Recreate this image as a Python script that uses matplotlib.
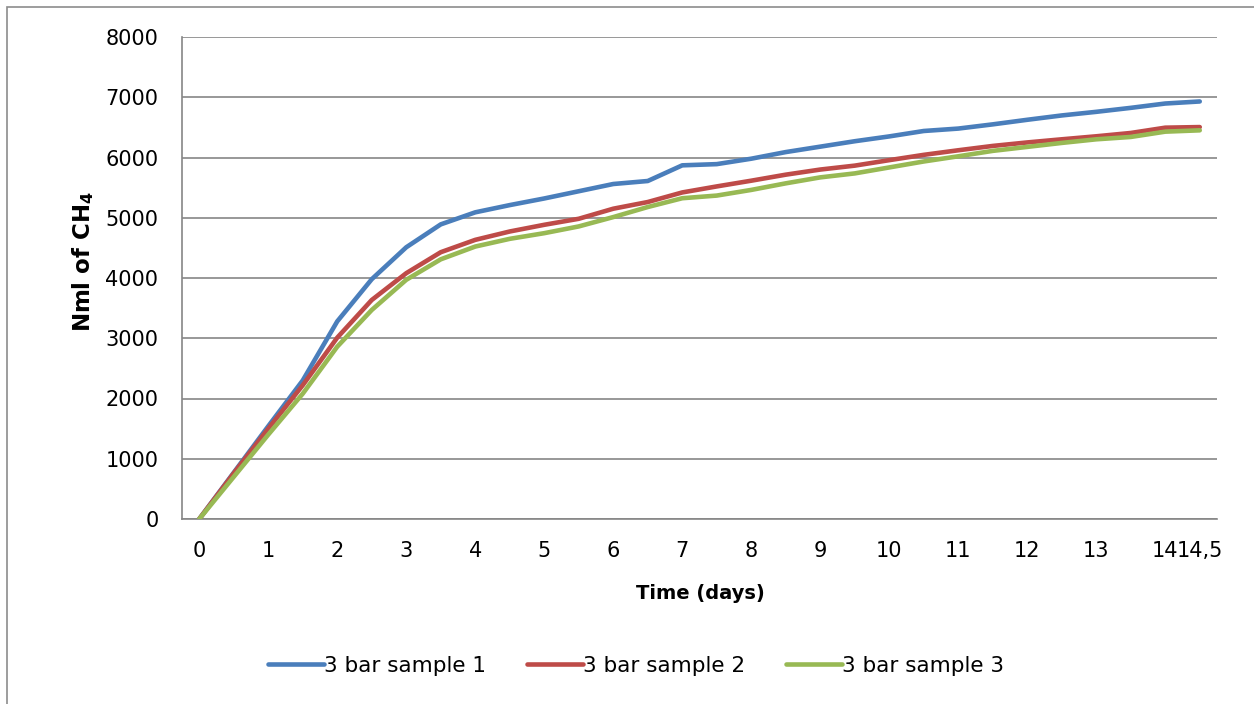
import matplotlib
matplotlib.use("Agg")
import matplotlib.pyplot as plt
from matplotlib.patches import Rectangle

# Sampling times (days) and cumulative methane volumes (Nml)
days = [0, 0.5, 1, 1.5, 2, 2.5, 3, 3.5, 4, 4.5, 5, 5.5, 6, 6.5, 7, 7.5,
        8, 8.5, 9, 9.5, 10, 10.5, 11, 11.5, 12, 12.5, 13, 13.5, 14, 14.5]

sample1 = [0, 770, 1540, 2300, 3280, 3980, 4510, 4890, 5090, 5210, 5320, 5440,
           5560, 5610, 5870, 5890, 5980, 6090, 6180, 6270, 6350, 6440, 6480,
           6550, 6626, 6698, 6758, 6824, 6896, 6930]
sample2 = [0, 760, 1500, 2220, 3010, 3635, 4080, 4428, 4633, 4772, 4883, 4983,
           5150, 5261, 5420, 5520, 5615, 5715, 5800, 5865, 5956, 6044, 6120,
           6192, 6250, 6302, 6352, 6407, 6495, 6505]
sample3 = [0, 700, 1400, 2080, 2860, 3469, 3970, 4310, 4522, 4650, 4744, 4856,
           5011, 5178, 5324, 5368, 5462, 5571, 5670, 5736, 5835, 5934, 6020,
           6110, 6176, 6242, 6302, 6341, 6429, 6451]

series_labels = ["3 bar sample 1", "3 bar sample 2", "3 bar sample 3"]
series_colors = ["#4A7EBB", "#BE4B48", "#98B954"]

xtick_values = [0, 1, 2, 3, 4, 5, 6, 7, 8, 9, 10, 11, 12, 13, 14, 14.5]
xtick_labels = ["0", "1", "2", "3", "4", "5", "6", "7", "8", "9", "10", "11",
                "12", "13", "14", "14,5"]
ytick_values = [0, 1000, 2000, 3000, 4000, 5000, 6000, 7000, 8000]

plt.rcParams["font.family"] = ["DejaVu Sans"]
plt.rcParams["mathtext.fontset"] = "dejavusans"

W, H = 1254, 704
fig = plt.figure(figsize=(W / 100, H / 100), dpi=100)
fig.patch.set_facecolor("white")

# chart-area frame (only its left and top edges fall inside the canvas)
fig.patches.append(Rectangle((7 / W, -0.2), 1.2, 1.2 - 7 / H,
                             transform=fig.transFigure, fill=False,
                             edgecolor="#8C8C8C", linewidth=1.2))

ax = fig.add_axes([182 / W, 1 - 519 / H, (1217 - 182) / W, (519 - 37) / H])

grid_color = "#868686"
for s, lab, col in zip([sample1, sample2, sample3], series_labels, series_colors):
    ax.plot(days, s, color=col, linewidth=3.3, label=lab,
            solid_capstyle="round", solid_joinstyle="round", zorder=3)

ax.set_xlim(-0.25, 14.75)
ax.set_ylim(0, 8000)
ax.set_xticks(xtick_values)
ax.set_xticklabels(xtick_labels)
ax.set_yticks(ytick_values)
ax.set_yticklabels([str(v) for v in ytick_values])
ax.tick_params(axis="both", length=0, labelsize=15, colors="black")
ax.tick_params(axis="x", pad=16)
ax.tick_params(axis="y", pad=17)

ax.yaxis.grid(True, color=grid_color, linewidth=1.2)
ax.set_axisbelow(True)
for side in ("top", "right"):
    ax.spines[side].set_visible(False)
for side in ("left", "bottom"):
    ax.spines[side].set_color(grid_color)
    ax.spines[side].set_linewidth(1.2)

ax.set_xlabel("Time (days)", fontsize=14, fontweight="bold")
ax.xaxis.set_label_coords((700 - 182) / (1217 - 182), -(584 - 519) / (519 - 37))
ax.set_ylabel(r"Nml of CH$_\mathbf{4}$", fontsize=16.5, fontweight="bold")
ax.yaxis.set_label_coords(-(182 - 96) / (1217 - 182), (519 - 262) / (519 - 37))

fig.legend(loc="center", bbox_to_anchor=(636 / W, 1 - 666 / H), ncol=3,
           frameon=False, fontsize=15.5, handlelength=2.6, handletextpad=0.0,
           columnspacing=1.9)

fig.savefig("out.png", dpi=100, facecolor="white")
